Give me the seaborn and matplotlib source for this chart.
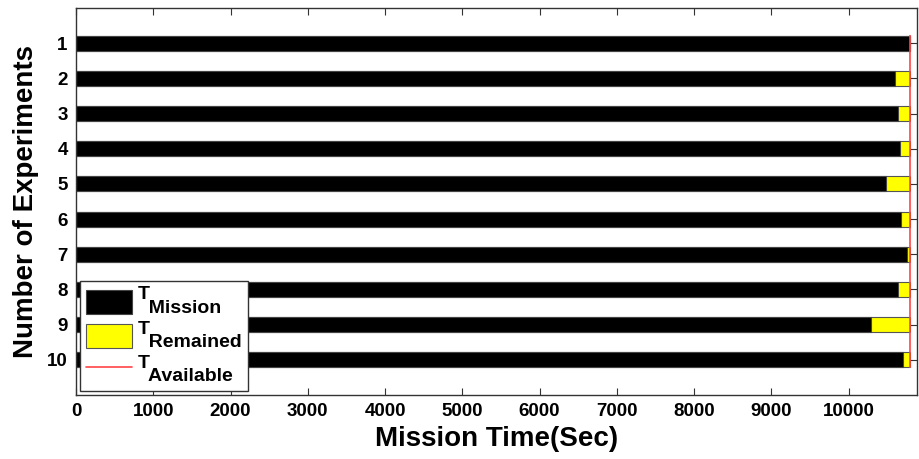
import matplotlib
matplotlib.use("Agg")
import matplotlib.pyplot as plt
import seaborn as sns
import pandas as pd
from matplotlib.patches import Patch
from matplotlib.lines import Line2D

# Experiment data (seconds)
experiments = ["1", "2", "3", "4", "5", "6", "7", "8", "9", "10"]
mission_time = [10800, 10595, 10634, 10664, 10483, 10681, 10759, 10642, 10289, 10703]
available_time = 10800

x_ticks = [0, 1000, 2000, 3000, 4000, 5000, 6000, 7000, 8000, 9000, 10000]

sns.set_theme(style="white")
plt.rcParams["font.family"] = ["Liberation Sans", "DejaVu Sans"]
plt.rcParams["font.weight"] = "bold"
for key in ("text.color", "axes.labelcolor", "xtick.color", "ytick.color"):
    plt.rcParams[key] = "black"

df = pd.DataFrame({
    "Experiment": experiments,
    "Mission": mission_time,
    "Total": [available_time] * len(experiments),
})

fig = plt.figure(figsize=(9.2, 4.59), dpi=100)
ax = fig.add_axes([0.0826, 0.1394, 0.9141, 0.8432])

bar_w = 0.43
# Remaining time shown as the yellow part behind the mission bar
sns.barplot(data=df, x="Total", y="Experiment", orient="h", color="#ffff00",
            saturation=1, width=bar_w, edgecolor="#555555", linewidth=0.8, ax=ax)
sns.barplot(data=df, x="Mission", y="Experiment", orient="h", color="black",
            saturation=1, width=bar_w, edgecolor="#444444", linewidth=0.8, ax=ax)

# Available time limit
ax.vlines(available_time, -0.22, 9.22, color="#ff4444", linewidth=1.2, zorder=5)

ax.set_xlim(0, 10884)
ax.set_ylim(10, -1)
ax.set_xticks(x_ticks)
ax.set_xticklabels([str(t) for t in x_ticks], fontsize=13.5, fontweight="bold")
ax.set_yticks(range(len(experiments)))
ax.set_yticklabels(experiments, fontsize=13.5, fontweight="bold")
ax.tick_params(axis="both", direction="in", length=5, width=0.8, color="#333333",
               labelcolor="black", top=True, right=True, bottom=True, left=True, pad=6)
for s in ax.spines.values():
    s.set_color("#333333")
    s.set_linewidth(1.0)

ax.set_xlabel("Mission Time(Sec)", fontsize=20, fontweight="bold", labelpad=4)
ax.set_ylabel("Number of Experiments", fontsize=20, fontweight="bold", labelpad=6)

handles = [
    Patch(facecolor="black", edgecolor="#444444", linewidth=0.8),
    Patch(facecolor="#ffff00", edgecolor="#555555", linewidth=0.8),
    Line2D([0], [0], color="#ff4444", linewidth=1.2),
]
# T with its subscript set on a lower line, shifted right
labels = ["T\n  Mission", "T\n  Remained", "T\n  Available"]
leg = ax.legend(handles, labels, loc="lower left", fontsize=14,
                handlelength=2.4, handleheight=1.5, handletextpad=0.3,
                labelspacing=0.2, borderpad=0.3, borderaxespad=0.2,
                fancybox=False, framealpha=1, edgecolor="#333333")
leg.get_frame().set_linewidth(1.0)
for t in leg.get_texts():
    t.set_linespacing(0.72)
    t.set_fontweight("bold")
    t.set_color("black")

fig.savefig("out.png", dpi=100)
